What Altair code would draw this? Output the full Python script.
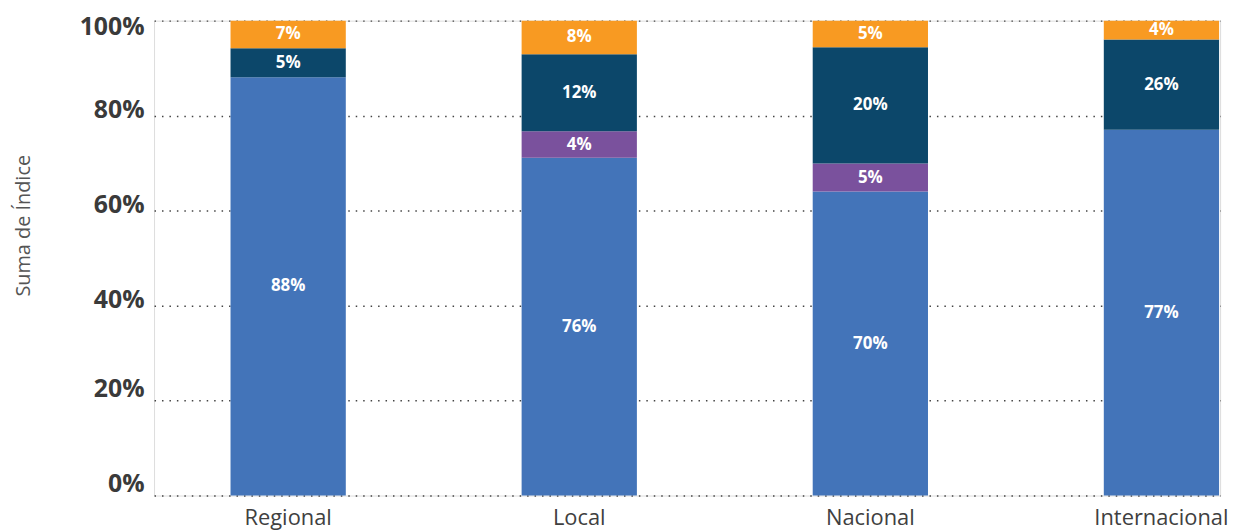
import altair as alt
import pandas as pd

categories = ["Regional", "Local", "Nacional", "Internacional"]
series = ["Serie 1", "Serie 2", "Serie 3", "Serie 4"]
colors = ["#4374B9", "#7A519D", "#0C476A", "#F89A22"]

# segment heights (share of Suma de Índice), bottom to top
s1_values = [88.1, 71.1, 64.0, 77.0]
s2_values = [0.0, 5.6, 5.9, 0.0]
s3_values = [6.1, 16.2, 24.5, 19.0]
s4_values = [5.8, 7.1, 5.6, 4.0]

# data labels as printed on the chart
s1_labels = ["88%", "76%", "70%", "77%"]
s2_labels = ["", "4%", "5%", ""]
s3_labels = ["5%", "12%", "20%", "26%"]
s4_labels = ["7%", "8%", "5%", "4%"]

y_ticks = [0, 20, 40, 60, 80, 100]

rows = []
for si, (vals, labs) in enumerate(zip([s1_values, s2_values, s3_values, s4_values],
                                      [s1_labels, s2_labels, s3_labels, s4_labels])):
    for ci, cat in enumerate(categories):
        if vals[ci] > 0:
            rows.append({"cat": cat, "series": series[si], "order": si,
                         "value": vals[ci], "label": labs[ci]})
df = pd.DataFrame(rows)

base = alt.Chart(df).transform_stack(
    stack="value", groupby=["cat"], as_=["y0", "y1"],
    sort=[alt.SortField("order", order="ascending")]
).transform_calculate(mid="(datum.y0 + datum.y1) / 2")

x_enc = alt.X(
    "cat:N", sort=categories,
    scale=alt.Scale(paddingInner=0.604, paddingOuter=0.1331, align=0.987),
    axis=alt.Axis(title=None, labelAngle=0, domain=False, ticks=False, grid=False,
                  labelFont="Open Sans", labelFontSize=22, labelColor="#404040",
                  labelPadding=12),
)

y_scale = alt.Scale(domain=[0, 100], nice=False, zero=True)

label_offset = {
    "condition": [
        {"test": "datum.value == 100", "value": 6},
        {"test": "datum.value <= 20", "value": -12},
    ],
    "value": -6,
}

bars = base.mark_bar().encode(
    x=x_enc,
    y=alt.Y("y0:Q", scale=y_scale,
            axis=alt.Axis(values=y_ticks, labelExpr="datum.value + '%'",
                          grid=True, gridDash=[1.5, 6], gridColor="#444444", gridWidth=1.5,
                          domain=False, ticks=False,
                          labelFont="Open Sans", labelFontSize=25, labelFontWeight="bold",
                          labelColor="#3a3a3a", labelPadding=10, labelOffset=label_offset,
                          labelBaseline="middle",
                          title="Suma de Índice", titleFont="Open Sans", titleFontSize=20,
                          titleFontWeight="normal", titleColor="#555555",
                          titleAngle=-90, titleX=-131, titleY=206,
                          titleAlign="center", titleBaseline="middle")),
    y2="y1:Q",
    color=alt.Color("series:N", scale=alt.Scale(domain=series, range=colors), legend=None),
)

texts = base.mark_text(font="Open Sans", fontSize=17, fontWeight="bold", color="white",
                       align="center", baseline="middle").encode(
    x=alt.X("cat:N", sort=categories),
    y=alt.Y("mid:Q", scale=y_scale),
    text="label:N",
)

chart = alt.layer(bars, texts).properties(
    width=1073, height=478,
    autosize=alt.AutoSizeParams(type="none"),
    padding={"left": 147, "top": 11, "right": 13, "bottom": 35},
).configure_view(stroke=None).configure(background="white")

chart.save("out.html", embed_options={"renderer": "svg", "actions": False})
